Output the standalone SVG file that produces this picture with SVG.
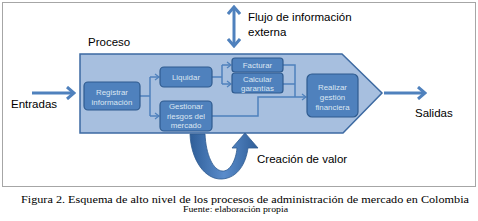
<svg xmlns="http://www.w3.org/2000/svg" width="478" height="221" viewBox="0 0 478 221">
<style>
.lbl{font-family:"Liberation Sans",Arial,sans-serif;font-size:11.5px;fill:#000}
.nt{font-family:"Liberation Sans",Arial,sans-serif;font-size:7.9px;fill:#dce6f2;text-anchor:middle}
.node{fill:#4f81bd;stroke:#2f5b8f;stroke-width:1.2}
.con{fill:none;stroke:#4f81bd;stroke-width:1.5}
.big{fill:none;stroke:#4f81bd;stroke-width:3}
.cap{font-family:"Liberation Serif","Times New Roman",serif;fill:#000}
</style>
<defs>
<marker id="ah" markerWidth="6" markerHeight="8" refX="5" refY="4" orient="auto" markerUnits="userSpaceOnUse">
<path d="M1,1 L5,4 L1,7" fill="none" stroke="#4f81bd" stroke-width="1.3"/>
</marker>
<marker id="bh" markerWidth="12" markerHeight="14" refX="10" refY="7" orient="auto-start-reverse" markerUnits="userSpaceOnUse">
<path d="M3,1 L10,7 L3,13" fill="none" stroke="#4f81bd" stroke-width="3"/>
</marker>
<linearGradient id="ug" x1="0" y1="0" x2="1" y2="0">
<stop offset="0" stop-color="#2f5e98"/>
<stop offset="0.5" stop-color="#5a8ccb"/>
<stop offset="1" stop-color="#2f5e98"/>
</linearGradient>
</defs>
<rect x="2.5" y="2.5" width="473" height="184" fill="#fff" stroke="#a6a6a6" stroke-width="1"/>
<g id="proceso">
<polygon points="80,54 342,54 382,93 343,133 80,133" fill="#a7bfdf" stroke="#3d6aa2" stroke-width="1.5"/>
<text class="lbl" x="88" y="46">Proceso</text>
</g>
<g id="connectors">
<line class="big" x1="32" y1="93" x2="74" y2="93" marker-end="url(#bh)"/>
<line class="big" x1="234" y1="7" x2="234" y2="46" marker-start="url(#bh)" marker-end="url(#bh)"/>
<line class="big" x1="384" y1="93" x2="425" y2="93" marker-end="url(#bh)"/>
<polyline class="con" points="140,96 150,96"/>
<polyline class="con" points="150,77 150,116"/>
<polyline class="con" points="150,77 159,77" marker-end="url(#ah)"/>
<polyline class="con" points="150,116 159,116" marker-end="url(#ah)"/>
<polyline class="con" points="212,77 222,77"/>
<polyline class="con" points="222,65 222,84"/>
<polyline class="con" points="222,65 231,65" marker-end="url(#ah)"/>
<polyline class="con" points="222,84 231,84" marker-end="url(#ah)"/>
<polyline class="con" points="283,65 295,65 295,97"/>
<polyline class="con" points="283,84 295,84"/>
<polyline class="con" points="212,116 258,116 258,97 306,97" marker-end="url(#ah)"/>
</g>
<g id="registrar">
<rect class="node" x="84" y="82" width="56" height="28" rx="4"/>
<text class="nt" x="112" y="94.5">Registrar</text>
<text class="nt" x="112" y="104.5">información</text>
</g>
<g id="liquidar">
<rect class="node" x="160" y="67" width="52" height="20" rx="4"/>
<text class="nt" x="186" y="80">Liquidar</text>
</g>
<g id="gestionar">
<rect class="node" x="160" y="101" width="52" height="30" rx="4"/>
<text class="nt" x="186" y="109">Gestionar</text>
<text class="nt" x="186" y="118.5">riesgos del</text>
<text class="nt" x="186" y="128">mercado</text>
</g>
<g id="facturar">
<rect class="node" x="232" y="58" width="51" height="14" rx="3"/>
<text class="nt" x="257.5" y="67.5">Facturar</text>
</g>
<g id="calcular">
<rect class="node" x="232" y="73" width="51" height="20" rx="3"/>
<text class="nt" x="257.5" y="81.5">Calcular</text>
<text class="nt" x="257.5" y="90.5">garantías</text>
</g>
<g id="realizar">
<rect class="node" x="307" y="74" width="51" height="43" rx="5"/>
<text class="nt" x="332.5" y="90">Realizar</text>
<text class="nt" x="332.5" y="100">gestión</text>
<text class="nt" x="332.5" y="110">financiera</text>
</g>
<g id="creacion">
<path d="M190,134 C191,160 205,180 222,179 C238,178 246,163 248,148 L258,148 L245,133 L232,148 L237,148 C236,160 230,172 222,171 C213,170 206,155 205,134 Z" fill="url(#ug)" stroke="#2f5b8f" stroke-width="0.8"/>
<text class="lbl" x="257" y="163">Creación de valor</text>
</g>
<text class="lbl" x="11" y="108">Entradas</text>
<text class="lbl" x="248" y="21">Flujo de información</text>
<text class="lbl" x="248" y="36">externa</text>
<text class="lbl" x="415" y="117">Salidas</text>
<text class="cap" x="21" y="203" font-size="10.5" textLength="448" lengthAdjust="spacingAndGlyphs">Figura 2. Esquema de alto nivel de los procesos de administración de mercado en Colombia</text>
<text class="cap" x="183" y="212" font-size="8.5" textLength="105" lengthAdjust="spacingAndGlyphs">Fuente: elaboración propia</text>
</svg>
